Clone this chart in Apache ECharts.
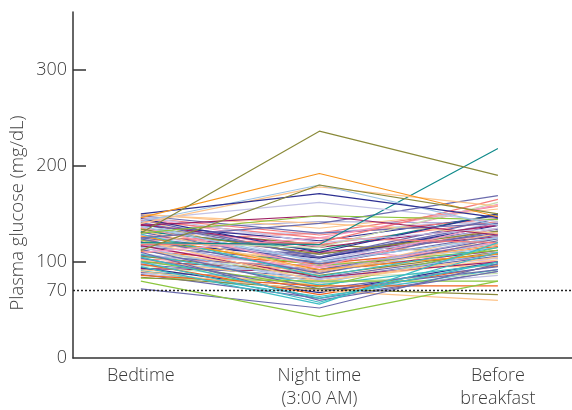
<!DOCTYPE html>
<html><head><meta charset="utf-8">
<script src="https://cdn.jsdelivr.net/npm/echarts@6/dist/echarts.min.js"></script>
<style>html,body{margin:0;padding:0;background:#fff}#c{width:572px;height:410px}</style>
</head><body><div id="c"></div>
<script>
const categories = ['Bedtime', 'Night time\n(3:00 AM)', 'Before\nbreakfast'];
const yTickLabels = [0, 70, 100, 200, 300];
const hypoThreshold = 70;
// one entry per patient
const bedtime = [130,112,146,150,142,140,144,120,80,72,95,100,105,110,130,138,125,118,110,120,
  90,84,86,83,148,147,145,149,143,141,139,137,136,134,133,132,131,129,128,127,
  126,124,123,122,121,119,117,116,115,114,113,112,111,109,108,107,106,104,103,102,
  101,99,98,97,96,94,93,92,91,89,88,87,150,146,144,142,140,138,135,130,
  128,125,140,135,120,118,112,105,100,145,98,92,146,133,122];
const nightTime = [236,180,192,171,180,178,162,118,43,52,56,58,62,60,148,148,140,120,125,115,
  70,72,75,80,130,120,110,140,125,105,115,100,95,108,90,112,98,85,102,92,
  118,88,96,80,104,90,84,100,78,94,72,88,98,82,76,92,86,70,96,80,
  74,88,66,84,78,68,90,76,64,82,70,62,135,128,105,100,112,122,95,130,
  110,105,95,118,100,108,84,100,92,88,110,98,116,142,130];
const beforeBreakfast = [190,150,147,146,138,158,142,218,80,98,120,110,100,90,144,128,169,165,159,162,
  60,66,75,80,140,135,150,130,120,145,138,125,140,132,118,150,128,115,135,108,
  142,122,112,105,138,126,100,132,110,120,95,130,116,104,98,124,110,92,135,102,
  115,120,96,108,88,100,112,126,92,106,86,90,155,145,130,110,100,148,95,145,
  126,140,115,108,96,134,90,142,118,122,128,104,160,140,158];
const lineColors = ['#8a8a3a','#8a8a3a','#f7941d','#2e3192','#9cc3e6','#fdc48a','#c3c3e6','#0f8a8a','#8cc63f','#6b6bad',
  '#3dbdc4','#3dbdc4','#3dbdc4','#6b6bad','#8cc63f','#9e1f63','#6b6bad','#f47c7c','#f49ac1','#c5dfb0',
  '#fdc48a','#8a8a3a','#f26522','#8cc63f','#6b6bad','#c3c3e6','#2e3192','#fdc48a','#f47c7c','#6b6bad',
  '#9e1f63','#9cc3e6','#f49ac1','#8a8a3a','#fdc48a','#0f8a8a','#6b6bad','#3dbdc4','#c3c3e6','#f7941d',
  '#f47c7c','#6b6bad','#8cc63f','#fdc48a','#2e3192','#a9a9d6','#9e1f63','#6b6bad','#9cc3e6','#f49ac1',
  '#6b6bad','#fdc48a','#f26522','#c3c3e6','#3dbdc4','#6b6bad','#8a8a3a','#6b6bad','#f47c7c','#fdc48a',
  '#8cc63f','#9cc3e6','#f26522','#6b6bad','#c5dfb0','#2e3192','#9e1f63','#fdc48a','#3dbdc4','#6b6bad',
  '#c3c3e6','#6b6bad','#fdc48a','#f47c7c','#6b6bad','#c3c3e6','#f49ac1','#2e3192','#fdc48a','#c3c3e6',
  '#9e1f63','#6b6bad','#9cc3e6','#8a8a3a','#fdc48a','#6b6bad','#c5dfb0','#c3c3e6','#b5332e','#fdc48a',
  '#f47c7c','#9cc3e6','#f49ac1','#a9a9d6','#f47c7c'];

const order = [];
for (let i = bedtime.length - 1; i >= 0; i--) order.push(i);

const series = order.map(i => ({
  type: 'line',
  data: [[0, bedtime[i]], [1, nightTime[i]], [2, beforeBreakfast[i]]],
  symbol: 'none',
  silent: true,
  animation: false,
  lineStyle: { color: lineColors[i], width: 1.2 }
}));
series.push({
  type: 'line', data: [], silent: true, animation: false,
  markLine: {
    silent: true, symbol: 'none', animation: false, label: { show: false },
    lineStyle: { color: '#222', type: [2, 2], width: 1.3 },
    data: [{ yAxis: hypoThreshold }]
  }
});

const font = 'Open Sans';
const chart = echarts.init(document.getElementById('c'), null, { renderer: 'canvas' });
chart.setOption({
  animation: false,
  grid: { left: 73, right: 0, top: 12, bottom: 52 },
  xAxis: {
    type: 'value', min: -0.38, max: 2.415,
    splitLine: { show: false },
    axisLine: { show: true, onZero: false, lineStyle: { color: '#333', width: 1.5 } },
    axisTick: { show: false },
    axisLabel: {
      customValues: [0, 1, 2],
      formatter: v => categories[Math.round(v)],
      fontSize: 18, color: '#3a3a3a', fontFamily: font, fontWeight: 300,
      lineHeight: 23, margin: 6
    }
  },
  yAxis: {
    type: 'value', min: 0, max: 360,
    splitLine: { show: false },
    axisLine: { show: true, onZero: false, lineStyle: { color: '#333', width: 1.5 } },
    axisTick: { show: true, inside: true, length: 13, customValues: [100, 200, 300], lineStyle: { color: '#333', width: 1.5 } },
    axisLabel: {
      customValues: yTickLabels,
      fontSize: 18, color: '#3a3a3a', fontFamily: font, fontWeight: 300, margin: 6
    }
  },
  graphic: [{
    type: 'text', x: 8, y: 213, rotation: Math.PI / 2,
    style: { text: 'Plasma glucose (mg/dL)', fontSize: 18.5, fill: '#444', fontFamily: font, fontWeight: 300,
      align: 'center', verticalAlign: 'top' }
  }],
  series: series
});
</script></body></html>
